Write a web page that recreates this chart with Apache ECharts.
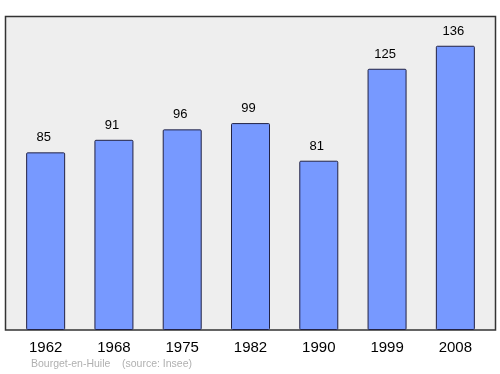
<!DOCTYPE html>
<html><head><meta charset="utf-8">
<script src="https://cdn.jsdelivr.net/npm/echarts@6/dist/echarts.min.js"></script>
<style>html,body{margin:0;padding:0;background:#fff}#c{width:500px;height:374px}</style>
</head><body><div id="c"></div>
<script>
var categories = ['1962','1968','1975','1982','1990','1999','2008'];
var values = [85, 91, 96, 99, 81, 125, 136];
var chart = echarts.init(document.getElementById('c'), null, {renderer:'canvas'});
chart.setOption({
  animation:false,
  graphic:[{type:'rect',shape:{x:5.5,y:16.5,width:490,height:313.5},style:{fill:'#eeeeee',stroke:'#333333',lineWidth:1.5},z:-10},
    {type:'text',left:31,top:359,style:{text:'Bourget-en-Huile',fill:'#b0b0b0',font:'10.5px "Liberation Sans", Arial, sans-serif'}},
    {type:'text',left:122,top:359,style:{text:'(source: Insee)',fill:'#b0b0b0',font:'10.5px "Liberation Sans", Arial, sans-serif'}}],
  grid:{left:11.5,right:10.5,top:16.5,bottom:44},
  xAxis:{type:'category',data:categories,axisLine:{show:false},axisTick:{show:false},
    axisLabel:{color:'#000',fontSize:15,fontFamily:'"Liberation Sans", Arial, sans-serif',margin:10}},
  yAxis:{type:'value',min:0,max:150,show:false,splitLine:{show:false}},
  series:[{type:'bar',data:values,barWidth:39,
    itemStyle:{color:'#7799ff',borderColor:'#222244',borderWidth:1,borderRadius:1},
    label:{show:true,position:'top',distance:8,offset:[-2,0],color:'#000',fontSize:13,fontFamily:'"Liberation Sans", Arial, sans-serif'}}]
});
</script></body></html>
